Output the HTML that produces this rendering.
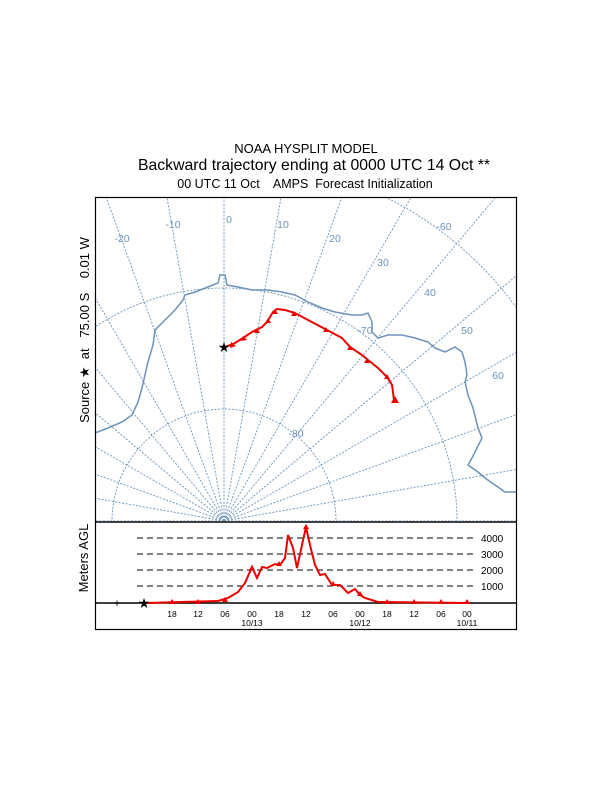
<!DOCTYPE html>
<html><head><meta charset="utf-8"><style>
html,body{margin:0;padding:0;background:#fff;width:612px;height:792px;overflow:hidden;}
svg{display:block;font-family:"Liberation Sans",Arial,sans-serif;}
text{white-space:pre;}
</style></head><body>
<svg width="612" height="792" viewBox="0 0 612 792" xmlns="http://www.w3.org/2000/svg">
<rect width="612" height="792" fill="#fff"/>
<text x="306" y="153" font-size="13" text-anchor="middle">NOAA HYSPLIT MODEL</text>
<text x="314" y="170" font-size="15.8" text-anchor="middle">Backward trajectory ending at 0000 UTC 14 Oct **</text>
<text x="305" y="188" font-size="12.5" text-anchor="middle" xml:space="preserve">00 UTC 11 Oct    AMPS  Forecast Initialization</text>
<defs><clipPath id="mc"><rect x="96" y="198" width="420" height="323"/></clipPath></defs>
<g clip-path="url(#mc)" stroke="#6b93bb" stroke-width="0.9" fill="none" stroke-dasharray="2,1.5">
<g transform="translate(224,521)">
<line x1="0" y1="0" x2="0" y2="-700" transform="rotate(0)"/>
<line x1="0" y1="0" x2="0" y2="-700" transform="rotate(10)"/>
<line x1="0" y1="0" x2="0" y2="-700" transform="rotate(20)"/>
<line x1="0" y1="0" x2="0" y2="-700" transform="rotate(30)"/>
<line x1="0" y1="0" x2="0" y2="-700" transform="rotate(40)"/>
<line x1="0" y1="0" x2="0" y2="-700" transform="rotate(50)"/>
<line x1="0" y1="0" x2="0" y2="-700" transform="rotate(60)"/>
<line x1="0" y1="0" x2="0" y2="-700" transform="rotate(70)"/>
<line x1="0" y1="0" x2="0" y2="-700" transform="rotate(80)"/>
<line x1="0" y1="0" x2="0" y2="-700" transform="rotate(90)"/>
<line x1="0" y1="0" x2="0" y2="-700" transform="rotate(-10)"/>
<line x1="0" y1="0" x2="0" y2="-700" transform="rotate(-20)"/>
<line x1="0" y1="0" x2="0" y2="-700" transform="rotate(-30)"/>
<line x1="0" y1="0" x2="0" y2="-700" transform="rotate(-40)"/>
<line x1="0" y1="0" x2="0" y2="-700" transform="rotate(-50)"/>
<line x1="0" y1="0" x2="0" y2="-700" transform="rotate(-60)"/>
<line x1="0" y1="0" x2="0" y2="-700" transform="rotate(-70)"/>
<line x1="0" y1="0" x2="0" y2="-700" transform="rotate(-80)"/>
<line x1="0" y1="0" x2="0" y2="-700" transform="rotate(-90)"/>
<circle cx="0" cy="0" r="112"/>
<circle cx="0" cy="0" r="233"/>
<circle cx="0" cy="0" r="362"/>
</g>
</g>
<g clip-path="url(#mc)">
<polyline fill="none" stroke="#6b93bb" stroke-width="1.5" points="95,433 108,428 122,422 132,415 138,402 142,388 145,375 148,362 153,345 155,330 162,323 167,318 175,310 183,300 185,295 195,292 208,287 218,283 220,275 225,275 227,285 238,287 252,290 268,290 282,292 295,295 308,302 322,308 335,312 352,315 362,315 368,313 372,322 372,332 378,338 388,335 402,335 415,338 428,342 435,348 445,352 455,347 462,352 465,362 467,375 465,382 468,395 473,408 478,428 482,438 477,448 472,458 468,465 478,472 485,478 495,485 505,492 517,492"/>
</g>
<g fill="#6b93bb" font-size="10.5" text-anchor="middle">
<text x="122" y="242">-20</text><text x="173" y="228">-10</text><text x="229" y="223">0</text>
<text x="283" y="228">10</text><text x="335" y="242">20</text><text x="383" y="266">30</text>
<text x="430" y="296">40</text><text x="467" y="334">50</text><text x="498" y="379">60</text>
<text x="444" y="230">-60</text><text x="365" y="334">-70</text><text x="296" y="437">-80</text>
</g>
<polyline fill="none" stroke="#e00" stroke-width="2" points="223,348 235,343 243,338 252,332 262,327 267,322 270,317 273,312 277,309 285,310 295,313 308,320 327,330 342,338 350,347 362,355 368,360 378,368 387,377 392,385 393,392 394,401"/>
<g fill="#e00">
<polygon points="231,342 236,346 230,348"/><polygon points="243,336 247,340 241,341"/>
<polygon points="257,328 260,333 254,333"/><polygon points="268,318 271,323 265,323"/>
<polygon points="275,309 278,314 272,314"/><polygon points="294,311 297,316 291,316"/>
<polygon points="326,327 329,332 323,332"/><polygon points="350,345 353,350 347,350"/>
<polygon points="367,358 370,363 364,363"/><polygon points="387,374 390,379 384,379"/>
<polygon points="395,396 399,403 391,403"/>
</g>
<text x="224" y="352" font-size="14" text-anchor="middle">★</text>
<rect x="95.5" y="197.5" width="421" height="432" fill="none" stroke="#000" stroke-width="1.2"/>
<line x1="95" y1="522" x2="517" y2="522" stroke="#000" stroke-width="1.5"/>
<g stroke="#000" stroke-width="0.9" stroke-dasharray="6,4">
<line x1="137" y1="538" x2="475" y2="538"/><line x1="137" y1="554" x2="475" y2="554"/>
<line x1="137" y1="570" x2="475" y2="570"/><line x1="137" y1="586" x2="475" y2="586"/>
</g>
<g font-size="10" text-anchor="start">
<text x="481" y="542">4000</text><text x="481" y="558">3000</text>
<text x="481" y="574">2000</text><text x="481" y="590">1000</text>
</g>
<line x1="95" y1="603" x2="517" y2="603" stroke="#000" stroke-width="1.5"/>
<polyline fill="none" stroke="#e00" stroke-width="2" points="145,603 218,601 228,598 238,592 245,583 252,567 257,578 262,567 267,568 275,564 280,565 285,558 288,535 293,548 297,568 302,545 306,527 310,545 315,565 320,575 325,574 332,585 340,585 348,593 355,589 360,595 365,598 378,602 468,603"/>
<g fill="#e00">
<polygon points="172,599 175,604 169,604"/><polygon points="198,599 201,604 195,604"/>
<polygon points="225,597 228,602 222,602"/><polygon points="252,565 255,570 249,570"/>
<polygon points="279,561 282,566 276,566"/><polygon points="306,524 309,529 303,529"/>
<polygon points="333,581 336,586 330,586"/><polygon points="360,591 363,596 357,596"/>
<polygon points="387,599 390,604 384,604"/><polygon points="414,599 417,604 411,604"/>
<polygon points="441,599 444,604 438,604"/><polygon points="467,599 470,604 464,604"/>
</g>
<text x="144" y="608" font-size="14" text-anchor="middle">★</text>
<text x="117" y="607" font-size="11" text-anchor="middle">+</text>
<g font-size="8.5" text-anchor="middle">
<text x="172" y="617">18</text><text x="198" y="617">12</text><text x="225" y="617">06</text>
<text x="252" y="617">00</text><text x="279" y="617">18</text><text x="306" y="617">12</text>
<text x="333" y="617">06</text><text x="360" y="617">00</text><text x="387" y="617">18</text>
<text x="414" y="617">12</text><text x="441" y="617">06</text><text x="467" y="617">00</text>
<text x="252" y="626">10/13</text><text x="360" y="626">10/12</text><text x="467" y="626">10/11</text>
</g>
<text transform="translate(89,330) rotate(-90)" font-size="13" text-anchor="middle" xml:space="preserve">Source ★  at   75.00 S    0.01 W</text>
<text transform="translate(88,558) rotate(-90)" font-size="13" text-anchor="middle">Meters AGL</text>
</svg>
</body></html>
